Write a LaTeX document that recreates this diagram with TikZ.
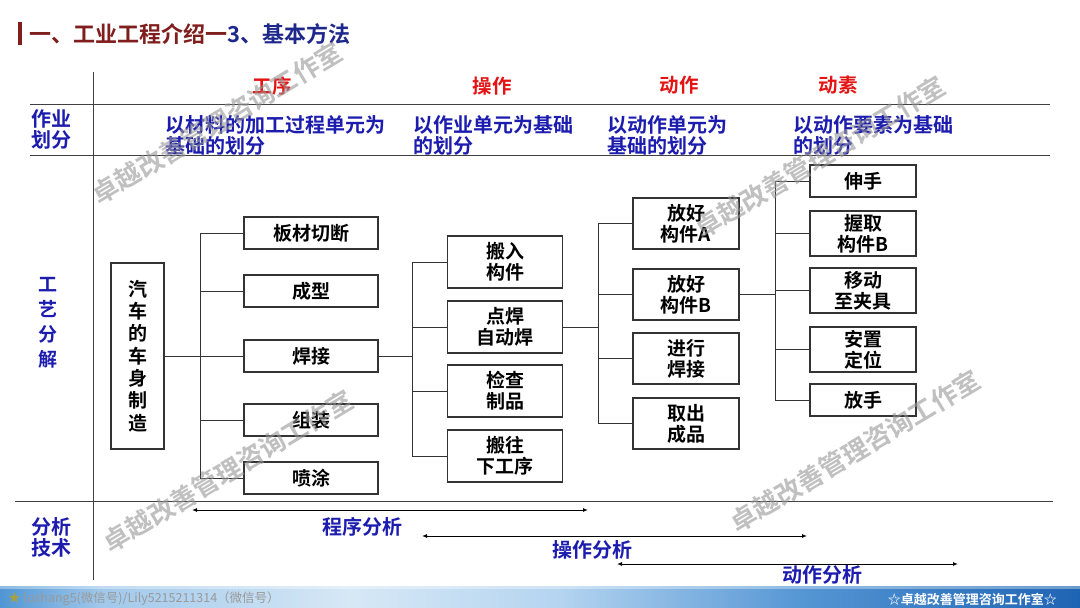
\documentclass[tikz,border=0pt]{standalone}
\usepackage{fontspec}
\setmainfont{Noto Sans CJK SC}[BoldFont={Noto Sans CJK SC Bold}]
\usetikzlibrary{arrows.meta,calc}
\definecolor{tred}{RGB}{128,30,30}
\definecolor{tblue}{RGB}{30,40,140}
\definecolor{hblue}{RGB}{28,28,175}
\definecolor{hred}{RGB}{228,20,20}
\definecolor{wm}{RGB}{150,150,150}
\definecolor{f1}{RGB}{80,150,212}
\definecolor{f2}{RGB}{160,200,235}
\definecolor{f3}{RGB}{215,232,246}
\definecolor{f4}{RGB}{180,212,240}
\definecolor{f5}{RGB}{85,150,212}
\definecolor{f6}{RGB}{30,100,180}
\tikzset{
  box/.style={draw=black!80, line width=1.1pt, align=center, inner sep=0pt,
    font=\bfseries\fontsize{19}{21}\selectfont, text=black},
  conn/.style={draw=black!80, line width=1pt},
  hdr/.style={font=\bfseries\fontsize{19.5}{21}\selectfont, text=hred},
  bluet/.style={font=\bfseries\fontsize{20}{21}\selectfont, text=hblue, align=left, inner sep=0pt},
  rule/.style={draw=black!75, line width=1pt},
  dbl/.style={draw=black, line width=1pt, {Latex[length=5pt,width=4pt]}-{Latex[length=5pt,width=4pt]}},
  wmark/.style={font=\bfseries\fontsize{26}{28}\selectfont, text=wm, opacity=0.6, rotate=31, inner sep=0pt}
}
\begin{document}
\begin{tikzpicture}[x=1pt,y=-1pt]
\useasboundingbox (0,0) rectangle (1080,608);
\fill[white] (0,0) rectangle (1080,608);
% title
\fill[tred] (17.5,22) rectangle (21.5,45);
\node[anchor=west, inner sep=0pt, font=\bfseries\fontsize{22}{24}\selectfont] (title) at (29,34)
  {\textcolor{tred}{一、工业工程介绍一}\textcolor{tblue}{3、基本方法}};
% grid lines
\coordinate (vt) at (93,72);
\coordinate (vb) at (93,580);
\draw[rule] (vt) -- (vb);
\coordinate (h1l) at (30,104); \coordinate (h1r) at (1050,104);
\coordinate (h2l) at (30,155); \coordinate (h2r) at (1050,155);
\coordinate (h3l) at (15,501); \coordinate (h3r) at (1053,501);
\draw[rule] (h1l) -- (h1r);
\draw[rule] (h2l) -- (h2r);
\draw[rule] (h3l) -- (h3r);
% left labels
\node[bluet, anchor=west] (lab1) at (31,129) {作业\\划分};
\node[bluet, align=center, font=\bfseries\fontsize{19}{25}\selectfont] (lab2) at (48,323) {工\\艺\\分\\解};
\node[bluet, anchor=west] (lab3) at (31,537) {分析\\技术};
% red headers
\node[hdr] (h1) at (272,86) {工序};
\node[hdr] (h2) at (492,86) {操作};
\node[hdr] (h3) at (679,85) {动作};
\node[hdr] (h4) at (838,85) {动素};
% row texts
\node[bluet, anchor=west] (r1) at (165,135) {以材料的加工过程单元为\\基础的划分};
\node[bluet, anchor=west] (r2) at (413,135) {以作业单元为基础\\的划分};
\node[bluet, anchor=west] (r3) at (607,135) {以动作单元为\\基础的划分};
\node[bluet, anchor=west] (r4) at (793,135) {以动作要素为基础\\的划分};
% boxes
\node[box, minimum width=53pt, minimum height=186pt, font=\bfseries\fontsize{19}{22.3}\selectfont] (car) at (137.5,356) {汽\\车\\的\\车\\身\\制\\造};
\node[box, minimum width=134pt, minimum height=32pt] (b1) at (311,233) {板材切断};
\node[box, minimum width=134pt, minimum height=32pt] (b2) at (311,291) {成型};
\node[box, minimum width=134pt, minimum height=32pt] (b3) at (311,356) {焊接};
\node[box, minimum width=134pt, minimum height=32pt] (b4) at (311,420) {组装};
\node[box, minimum width=134pt, minimum height=32pt] (b5) at (311,478) {喷涂};
\node[box, minimum width=115pt, minimum height=52pt] (c1) at (505,262) {搬入\\构件};
\node[box, minimum width=115pt, minimum height=52pt] (c2) at (505,327) {点焊\\自动焊};
\node[box, minimum width=115pt, minimum height=52pt] (c3) at (505,391) {检查\\制品};
\node[box, minimum width=115pt, minimum height=52pt] (c4) at (505,456) {搬往\\下工序};
\node[box, minimum width=106pt, minimum height=51pt] (d1) at (686,223.5) {放好\\构件A};
\node[box, minimum width=106pt, minimum height=51pt] (d2) at (686,294.5) {放好\\构件B};
\node[box, minimum width=106pt, minimum height=51pt] (d3) at (686,358.5) {进行\\焊接};
\node[box, minimum width=106pt, minimum height=51pt] (d4) at (686,423.5) {取出\\成品};
\node[box, minimum width=106pt, minimum height=32pt] (e1) at (863,181) {伸手};
\node[box, minimum width=106pt, minimum height=45pt] (e2) at (863,233.5) {握取\\构件B};
\node[box, minimum width=106pt, minimum height=45pt] (e3) at (863,290.5) {移动\\至夹具};
\node[box, minimum width=106pt, minimum height=45pt] (e4) at (863,349.5) {安置\\定位};
\node[box, minimum width=106pt, minimum height=32pt] (e5) at (863,400) {放手};
% connectors
\coordinate (j1) at (200,356);
\coordinate (j2) at (412,356);
\coordinate (j3) at (598,327);
\coordinate (j4) at (775,294.5);
\draw[conn] (car.east) -- (b3.west);
\draw[conn] (b1.west) -- (b1.west -| j1) -- (b5.west -| j1) -- (b5.west);
\draw[conn] (b2.west) -- (b2.west -| j1);
\draw[conn] (b4.west) -- (b4.west -| j1);
\draw[conn] (b3.east) -- (j2);
\draw[conn] (c1.west) -- (c1.west -| j2) -- (c4.west -| j2) -- (c4.west);
\draw[conn] (c2.west) -- (c2.west -| j2);
\draw[conn] (c3.west) -- (c3.west -| j2);
\draw[conn] (c2.east) -- (j3);
\draw[conn] (d1.west) -- (d1.west -| j3) -- (d4.west -| j3) -- (d4.west);
\draw[conn] (d2.west) -- (d2.west -| j3);
\draw[conn] (d3.west) -- (d3.west -| j3);
\draw[conn] (d2.east) -- (j4);
\draw[conn] (e1.west) -- (e1.west -| j4) -- (e5.west -| j4) -- (e5.west);
\draw[conn] (e2.west) -- (e2.west -| j4);
\draw[conn] (e3.west) -- (e3.west -| j4);
\draw[conn] (e4.west) -- (e4.west -| j4);
% analysis arrows
\coordinate (a1l) at (192,510); \coordinate (a1r) at (588,510);
\coordinate (a2l) at (422,536); \coordinate (a2r) at (807,536);
\coordinate (a3l) at (617,564); \coordinate (a3r) at (958,564);
\draw[dbl] (a1l) -- (a1r);
\draw[dbl] (a2l) -- (a2r);
\draw[dbl] (a3l) -- (a3r);
\node[bluet] (t1) at (362,527) {程序分析};
\node[bluet] (t2) at (592,550) {操作分析};
\node[bluet] (t3) at (822,575) {动作分析};
% footer
\fill[left color=f1, right color=f2] (0,586) rectangle (101,608);
\fill[left color=f2, right color=f3] (100,586) rectangle (351,608);
\fill[left color=f3, right color=f4] (350,586) rectangle (561,608);
\fill[left color=f4, right color=f5] (560,586) rectangle (801,608);
\fill[left color=f5, right color=f6] (800,586) rectangle (1080,608);
\fill[white, opacity=0.35] (0,586) rectangle (1080,589);
\node[anchor=west, inner sep=0pt, font=\fontsize{12.5}{14}\selectfont, text=black!40] (ft1) at (8,599)
  {\textcolor{yellow!60!black}{★} lushang5(微信号)/Lily5215211314（微信号）};
\node[anchor=east, inner sep=0pt, font=\bfseries\fontsize{13}{14}\selectfont, text=white] (ft2) at (1057,599)
  {☆卓越改善管理咨询工作室☆};
% watermarks
\node[wmark] (w1) at (217,123) {卓越改善管理咨询工作室};
\node[wmark] (w2) at (820,157) {卓越改善管理咨询工作室};
\node[wmark] (w3) at (228,471) {卓越改善管理咨询工作室};
\node[wmark] (w4) at (855,451) {卓越改善管理咨询工作室};
\end{tikzpicture}
\end{document}
